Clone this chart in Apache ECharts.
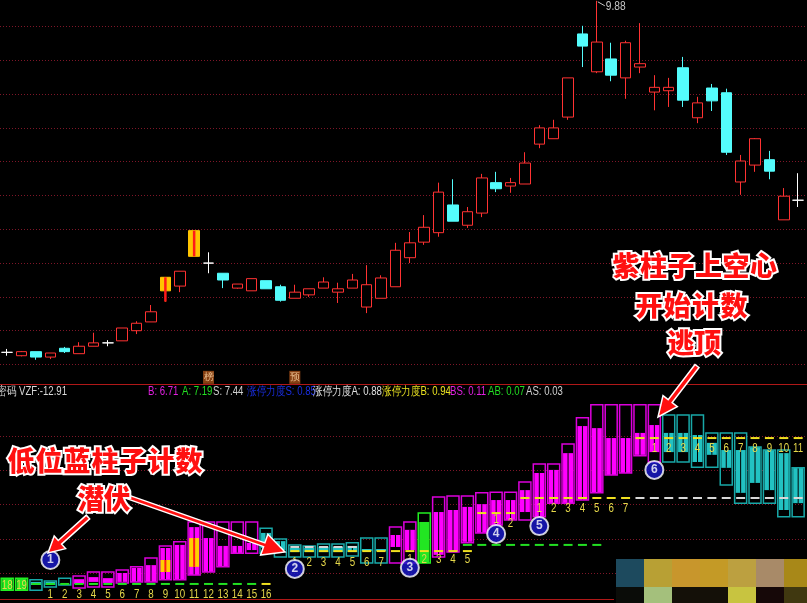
<!DOCTYPE html>
<html>
<head>
<meta charset="utf-8">
<style>
  html, body { margin: 0; padding: 0; background: #000; }
  #main { width: 807px; height: 603px; }
</style>
<script src="https://cdn.jsdelivr.net/npm/echarts@6/dist/echarts.min.js"></script>
</head>
<body>
<div id="main"></div>
<script>
// 日K线 [开, 收, 低, 高]
var kline = [
  [4.68, 4.68, 4.63, 4.73], [4.63, 4.69, 4.62, 4.70], [4.69, 4.61, 4.57, 4.69], [4.61, 4.67, 4.58, 4.67],
  [4.74, 4.69, 4.67, 4.76], [4.66, 4.77, 4.66, 4.83], [4.77, 4.82, 4.77, 4.97], [4.82, 4.82, 4.77, 4.86],
  [4.85, 5.04, 4.85, 5.04], [5.00, 5.11, 4.95, 5.14], [5.13, 5.28, 5.13, 5.38], [5.59, 5.79, 5.43, 5.79],
  [5.66, 5.88, 5.57, 5.88], [6.10, 6.48, 6.10, 6.48], [6.00, 6.00, 5.85, 6.16], [5.85, 5.75, 5.63, 5.85],
  [5.63, 5.69, 5.62, 5.69], [5.59, 5.77, 5.59, 5.77], [5.74, 5.62, 5.62, 5.74], [5.65, 5.45, 5.43, 5.68],
  [5.48, 5.57, 5.48, 5.68], [5.53, 5.62, 5.50, 5.62], [5.63, 5.72, 5.63, 5.79], [5.57, 5.62, 5.41, 5.71],
  [5.63, 5.75, 5.63, 5.84], [5.35, 5.68, 5.26, 5.97], [5.48, 5.78, 5.48, 5.82], [5.65, 6.19, 5.65, 6.30],
  [6.08, 6.30, 6.00, 6.46], [6.31, 6.53, 6.27, 6.71], [6.45, 7.05, 6.39, 7.19], [6.86, 6.62, 6.62, 7.24],
  [6.56, 6.76, 6.52, 6.83], [6.74, 7.26, 6.68, 7.32], [7.19, 7.10, 7.05, 7.35], [7.14, 7.19, 7.04, 7.26],
  [7.17, 7.48, 7.17, 7.64], [7.76, 8.00, 7.70, 8.04], [7.84, 8.00, 7.84, 8.12], [8.16, 8.74, 8.12, 8.74],
  [9.39, 9.21, 8.90, 9.51], [8.83, 9.27, 8.81, 9.88], [9.02, 8.78, 8.69, 9.26], [8.74, 9.26, 8.43, 9.29],
  [8.90, 8.95, 8.81, 9.55], [8.53, 8.60, 8.26, 8.78], [8.55, 8.60, 8.31, 8.74], [8.89, 8.41, 8.31, 9.05],
  [8.15, 8.37, 8.07, 8.46], [8.59, 8.40, 8.25, 8.65], [8.52, 7.64, 7.60, 8.58], [7.20, 7.51, 7.01, 7.60],
  [7.45, 7.84, 7.35, 7.85], [7.53, 7.36, 7.24, 7.66], [6.64, 6.99, 6.64, 7.11], [6.93, 6.93, 6.83, 7.33]
];
var limitUpDays = [11, 13];
var tagDays = [14, 20];
var tagTexts = ['榜', '预'];
var tagLevel = 4.31;

// 副图柱子
var boxLow = [-0.50, -0.50, -0.50, -0.41, -0.35, -0.44, -0.41, -0.41, -0.29, -0.26, -0.26, -0.20, -0.20, -0.06, 0.03, 0.18,
  0.58, 0.58, 0.58, 0.47, 0.47, 0.47, 0.47, 0.47, 0.50, 0.29, 0.29, 0.29, 0.29, 0.29, 0.47, 0.61,
  0.88, 1.17, 1.40, 1.55, 1.55, 1.64, 2.04, 2.04, 2.13, 2.34, 2.86, 2.92, 3.42, 3.24,
  3.24, 3.24, 3.09, 3.09, 2.57, 2.04, 2.04, 2.04, 1.64, 1.64];
var boxHigh = [-0.15, -0.15, -0.20, -0.23, -0.15, -0.09, 0.03, 0.03, 0.09, 0.18, 0.44, 0.79, 0.91, 1.49, 1.49, 1.49,
  1.49, 1.49, 1.31, 0.99, 0.82, 0.79, 0.85, 0.85, 0.88, 1.02, 1.02, 1.34, 1.49, 1.75, 2.22, 2.25,
  2.25, 2.34, 2.36, 2.36, 2.66, 3.18, 3.18, 3.77, 4.53, 4.91, 4.91, 4.91, 4.91, 4.91,
  4.61, 4.61, 4.61, 4.09, 4.09, 4.09, 3.68, 3.59, 3.59, 3.07];
var fillLow = [-0.50, -0.50, -0.35, -0.35, null, -0.32, -0.26, -0.29, -0.26, -0.26, -0.26, -0.20, -0.20, -0.06, 0.03, 0.20,
  0.58, 0.67, 0.73, 0.67, 0.61, 0.61, 0.61, 0.61, 0.61, 0.64, 0.64, 0.76, 0.67, 0.29, 0.53, 0.61,
  0.91, 1.17, 1.40, 1.55, 1.78, 1.64, 2.04, 2.04, 2.13, 2.34, 2.86, 2.92, 3.45, 3.53,
  3.53, 3.53, 3.24, 3.45, 3.07, 2.34, 2.63, 2.42, 1.84, 2.04];
var fillHigh = [-0.15, -0.15, -0.26, -0.26, null, -0.18, -0.12, -0.15, 0.00, 0.15, 0.23, 0.73, 0.82, 1.34, 1.02, 0.79,
  0.79, 0.88, 1.17, 0.93, 0.73, 0.73, 0.76, 0.76, 0.79, 0.70, 0.70, 1.11, 1.26, 1.49, 1.78, 1.84,
  1.93, 2.01, 2.13, 2.13, 2.42, 2.92, 3.01, 3.50, 4.29, 4.23, 3.94, 3.94, 4.09, 4.32,
  4.09, 4.09, 4.03, 3.80, 3.59, 3.59, 3.68, 3.59, 3.50, 3.07];
var boxKind = 'ggtttmmmmmmmmmmmmmtttttttttmmgmmmmmmmmmmmmmmmmtttttttttt'.split('');
var yellowDays = [11, 13];
var yellowLow = [0.03, 0.18];
var yellowHigh = [0.38, 1.02];

// 副图水平短线 [起, 止, 值, 颜色]
var dashRuns = [
  [2, 17, -0.32, 'g'], [18, 18, -0.32, 'y'],
  [20, 32, 0.64, 'y'], [20, 24, 0.76, 'w'],
  [32, 41, 0.82, 'g'], [33, 35, 1.75, 'y'],
  [36, 43, 2.19, 'y'], [44, 55, 2.19, 'w'], [44, 55, 3.94, 'y']
];

// 计数标签 [日, 值, 文字]
var countLabels = [
  [0, -0.35, '18'], [1, -0.35, '19'],
  [3, -0.62, '1'], [4, -0.62, '2'], [5, -0.62, '3'], [6, -0.62, '4'], [7, -0.62, '5'], [8, -0.62, '6'],
  [9, -0.62, '7'], [10, -0.62, '8'], [11, -0.62, '9'], [12, -0.62, '10'], [13, -0.62, '11'], [14, -0.62, '12'],
  [15, -0.62, '13'], [16, -0.62, '14'], [17, -0.62, '15'], [18, -0.62, '16'],
  [20, 0.32, '1'], [21, 0.32, '2'], [22, 0.32, '3'], [23, 0.32, '4'], [24, 0.32, '5'], [25, 0.32, '6'], [26, 0.32, '7'],
  [28, 0.41, '1'], [29, 0.41, '2'], [30, 0.41, '3'], [31, 0.41, '4'], [32, 0.41, '5'],
  [34, 1.55, '1'], [35, 1.46, '2'],
  [37, 1.90, '1'], [38, 1.90, '2'], [39, 1.90, '3'], [40, 1.90, '4'], [41, 1.90, '5'], [42, 1.90, '6'], [43, 1.90, '7'],
  [45, 3.65, '1'], [46, 3.65, '2'], [47, 3.65, '3'], [48, 3.65, '4'], [49, 3.65, '5'], [50, 3.65, '6'],
  [51, 3.65, '7'], [52, 3.65, '8'], [53, 3.65, '9'], [54, 3.65, '10'], [55, 3.65, '11']
];

// 圈号 [日, 值, 号]
var circleMarks = [[3, 0.38, '1'], [20, 0.12, '2'], [28, 0.15, '3'], [34, 1.14, '4'], [37, 1.37, '5'], [45, 3.01, '6']];

// 指标栏
var headerTexts = ['密码', 'VZF:-12.91', 'B: 6.71', 'A: 7.19', 'S: 7.44', '涨停力度S: 0.85', '涨停力度A: 0.88', '涨停力度B: 0.94', 'BS: 0.11', 'AB: 0.07', 'AS: 0.03'];
var headerX = [-3, 19, 148, 182, 213, 247, 313, 382, 450, 488, 526];
var headerColors = ['#d8d8d8', '#d8d8d8', '#e020e0', '#22dd22', '#d0d0d0', '#1a2ee0', '#e0e0e0', '#e8e020', '#e020e0', '#22dd22', '#d0d0d0'];

var days = kline.map(function (d, i) { return i; });

var kindColor = {
  m: { stroke: '#dc00dc', fill: '#ff00ff' },
  t: { stroke: '#18a8a8', fill: '#22c2c2' },
  g: { stroke: '#22ee22', fill: '#22e622' }
};
var dashColor = { g: '#22e022', y: '#f0e020', w: '#d8d8d8' };
var fontStack = '"Liberation Sans", Arial, sans-serif';

var dashData = [];
dashRuns.forEach(function (r) {
  for (var d = r[0]; d <= r[1]; d++) dashData.push([d, r[2], r[3]]);
});

var candleData = kline.map(function (d, i) {
  if (limitUpDays.indexOf(i) >= 0) {
    return { value: d, itemStyle: { color: '#ffc400', borderColor: '#ffc400' } };
  }
  return d;
});

// 最高价
var topDay = 0;
kline.forEach(function (d, i) { if (d[3] > kline[topDay][3]) topDay = i; });

var xCat = function (gi) {
  return {
    type: 'category', gridIndex: gi, data: days, boundaryGap: true,
    axisLine: { show: false }, axisTick: { show: false }, axisLabel: { show: false }, splitLine: { show: false }
  };
};
var gridLine = { show: true, lineStyle: { color: '#7e1628', type: [1, 2], width: 1 } };

// 大字注释
var bigLines = [
  { t: '低位蓝柱子计数', x: 21, step: 28, y: 461 },
  { t: '潜伏', x: 91, step: 26, y: 499 },
  { t: '紫柱子上空心', x: 626, step: 27.5, y: 266 },
  { t: '开始计数', x: 649, step: 28.3, y: 306 },
  { t: '逃顶', x: 681, step: 26.5, y: 343 }
];

function arrowShape(x1, y1, x2, y2, shaft, headW, headL) {
  var dx = x2 - x1, dy = y2 - y1, len = Math.sqrt(dx * dx + dy * dy);
  var ux = dx / len, uy = dy / len, nx = -uy, ny = ux;
  var bx = x2 - ux * headL, by = y2 - uy * headL;
  var s = shaft / 2, h = headW / 2;
  return [
    [x1 + nx * s, y1 + ny * s], [bx + nx * s, by + ny * s], [bx + nx * h, by + ny * h], [x2, y2],
    [bx - nx * h, by - ny * h], [bx - nx * s, by - ny * s], [x1 - nx * s, y1 - ny * s]
  ];
}

var graphics = [
  { type: 'line', shape: { x1: 0, y1: 384.5, x2: 807, y2: 384.5 }, style: { stroke: '#b01818', lineWidth: 1 }, z: 1 },
  { type: 'line', shape: { x1: 0, y1: 599.5, x2: 614, y2: 599.5 }, style: { stroke: '#b01818', lineWidth: 1 }, z: 1 }
];
headerTexts.forEach(function (t, i) {
  graphics.push({
    type: 'text', x: headerX[i], y: 392, z: 5, scaleX: 0.8,
    style: { text: t, fill: headerColors[i], font: '12px ' + fontStack, verticalAlign: 'middle' }
  });
});
[
  arrowShape(88, 517, 48, 553, 5, 17, 16),
  arrowShape(128, 497, 285, 552, 4, 22, 22),
  arrowShape(697, 366, 658, 417, 5, 18, 20)
].forEach(function (pts) {
  graphics.push({ type: 'polygon', shape: { points: pts }, style: { fill: '#ff1010', stroke: '#ffffff', lineWidth: 1.5 }, z: 20 });
});
bigLines.forEach(function (ln) {
  ln.t.split('').forEach(function (ch, k) {
    graphics.push({
      type: 'text', x: ln.x + k * ln.step, y: ln.y, z: 21,
      style: {
        text: ch, fill: '#ff1010', stroke: '#ffffff', lineWidth: 4, strokeFirst: true,
        font: '900 27px "Noto Sans CJK SC"', align: 'center', verticalAlign: 'middle'
      }
    });
  });
});
// 右下角马赛克
var mosaicTop = ['#1d4a5e', '#b8a034', '#c8962c', '#c49a26', '#bca040', '#a88a68', '#a88818'];
var mosaicBottom = ['#0a0c08', '#a4c07c', '#141008', '#141008', '#c8c440', '#160808', '#403810'];
mosaicTop.forEach(function (c, k) {
  graphics.push({ type: 'rect', shape: { x: 616 + k * 28, y: 559, width: 28, height: 28 }, style: { fill: c }, z: 30 });
  graphics.push({ type: 'rect', shape: { x: 616 + k * 28, y: 587, width: 28, height: 16 }, style: { fill: mosaicBottom[k] }, z: 30 });
});

var chart = echarts.init(document.getElementById('main'));
chart.setOption({
  backgroundColor: '#000',
  animation: false,
  grid: [
    { left: -7.25, width: 812.6, top: 26.5, height: 338 },
    { left: -7.25, width: 812.6, top: 436, height: 137 }
  ],
  xAxis: [xCat(0), xCat(1)],
  yAxis: [
    { type: 'value', gridIndex: 0, min: 4.5, max: 9.5, interval: 0.5, axisLine: { show: false }, axisTick: { show: false }, axisLabel: { show: false }, splitLine: gridLine },
    { type: 'value', gridIndex: 1, min: 0, max: 4, interval: 1, axisLine: { show: false }, axisTick: { show: false }, axisLabel: { show: false }, splitLine: gridLine }
  ],
  graphic: graphics,
  series: [
    {
      type: 'candlestick', xAxisIndex: 0, yAxisIndex: 0, barWidth: 11, clip: false, z: 2,
      data: candleData,
      itemStyle: {
        color: '#000', color0: '#54fcfc', borderColor: '#ff3232', borderColor0: '#54fcfc',
        borderColorDoji: '#ffffff', borderWidth: 1
      }
    },
    {
      // 涨停柱中线
      type: 'custom', xAxisIndex: 0, yAxisIndex: 0, clip: false, z: 4,
      data: limitUpDays.map(function (i) { return [i, kline[i][2], kline[i][3]]; }),
      renderItem: function (params, api) {
        var lo = api.coord([api.value(0), api.value(1)]);
        var hi = api.coord([api.value(0), api.value(2)]);
        return { type: 'line', shape: { x1: lo[0], y1: lo[1], x2: hi[0], y2: hi[1] }, style: { stroke: '#ff1a1a', lineWidth: 2.5 } };
      }
    },
    {
      // 最高价标注
      type: 'custom', xAxisIndex: 0, yAxisIndex: 0, clip: false, z: 4,
      data: [[topDay, kline[topDay][3]]],
      renderItem: function (params, api) {
        var p = api.coord([api.value(0), api.value(1)]);
        return {
          type: 'group', children: [
            { type: 'line', shape: { x1: p[0] + 1, y1: p[1] + 1, x2: p[0] + 8, y2: p[1] + 5 }, style: { stroke: '#c8c8c8', lineWidth: 1 } },
            { type: 'text', x: p[0] + 9, y: p[1] + 6, scaleX: 0.85, style: { text: api.value(1).toFixed(2), fill: '#c8c8c8', font: '12px ' + fontStack, verticalAlign: 'middle' } }
          ]
        };
      }
    },
    {
      type: 'scatter', xAxisIndex: 0, yAxisIndex: 0, clip: false,
      symbol: 'rect', symbolSize: [11, 13],
      itemStyle: { color: '#a85018' },
      label: { show: true, position: 'inside', color: '#ffd8a8', fontSize: 10, formatter: function (p) { return p.value[2]; } },
      data: tagDays.map(function (d, k) { return [d, tagLevel, tagTexts[k]]; })
    },
    {
      type: 'custom', xAxisIndex: 1, yAxisIndex: 1, clip: false,
      data: days.map(function (i) { return [i, boxLow[i], boxHigh[i]]; }),
      renderItem: function (params, api) {
        var i = api.value(0);
        var cx = api.coord([i, 0])[0];
        var yLo = api.coord([i, boxLow[i]])[1];
        var yHi = api.coord([i, boxHigh[i]])[1];
        var c = kindColor[boxKind[i]];
        var ow = 12, fw = 10, kids = [];
        if (fillLow[i] !== null) {
          var f1 = api.coord([i, fillHigh[i]])[1], f0 = api.coord([i, fillLow[i]])[1];
          kids.push({ type: 'rect', shape: { x: cx - fw / 2, y: f1, width: fw, height: f0 - f1 }, style: { fill: c.fill } });
          if (boxKind[i] !== 'g' && f0 - f1 > 6) {
            kids.push({ type: 'line', shape: { x1: cx, y1: f1, x2: cx, y2: f0 }, style: { stroke: '#000', lineWidth: 1 } });
          }
        }
        var yi = yellowDays.indexOf(i);
        if (yi >= 0) {
          var y1 = api.coord([i, yellowHigh[yi]])[1], y0 = api.coord([i, yellowLow[yi]])[1];
          kids.push({ type: 'rect', shape: { x: cx - fw / 2, y: y1, width: fw, height: y0 - y1 }, style: { fill: '#ffd000' } });
          kids.push({ type: 'line', shape: { x1: cx, y1: y1, x2: cx, y2: y0 }, style: { stroke: '#ff1a1a', lineWidth: 2 } });
        }
        kids.push({
          type: 'rect', shape: { x: cx - ow / 2, y: yHi, width: ow, height: yLo - yHi },
          style: { fill: 'none', stroke: c.stroke, lineWidth: 1.5 }
        });
        return { type: 'group', children: kids };
      }
    },
    {
      type: 'custom', xAxisIndex: 1, yAxisIndex: 1, clip: false,
      data: dashData.map(function (d) { return [d[0], d[1]]; }),
      renderItem: function (params, api) {
        var p = api.coord([api.value(0), api.value(1)]);
        return { type: 'rect', shape: { x: p[0] - 4.5, y: p[1] - 1, width: 9, height: 2 }, style: { fill: dashColor[dashData[params.dataIndex][2]] } };
      }
    },
    {
      type: 'custom', xAxisIndex: 1, yAxisIndex: 1, clip: false,
      data: countLabels.map(function (d) { return [d[0], d[1]]; }),
      renderItem: function (params, api) {
        var p = api.coord([api.value(0), api.value(1)]);
        return {
          type: 'text', x: p[0], y: p[1], scaleX: 0.75,
          style: { text: countLabels[params.dataIndex][2], fill: '#e6d84a', font: '13px ' + fontStack, align: 'center', verticalAlign: 'middle' }
        };
      }
    },
    {
      type: 'scatter', xAxisIndex: 1, yAxisIndex: 1, clip: false, z: 10,
      symbol: 'circle', symbolSize: 18,
      itemStyle: { color: '#1a1ad0', borderColor: '#ffffff', borderWidth: 2 },
      label: { show: true, position: 'inside', color: '#ffffff', fontSize: 12, fontWeight: 'bold', formatter: function (p) { return p.value[2]; } },
      data: circleMarks
    }
  ]
});
</script>
</body>
</html>
